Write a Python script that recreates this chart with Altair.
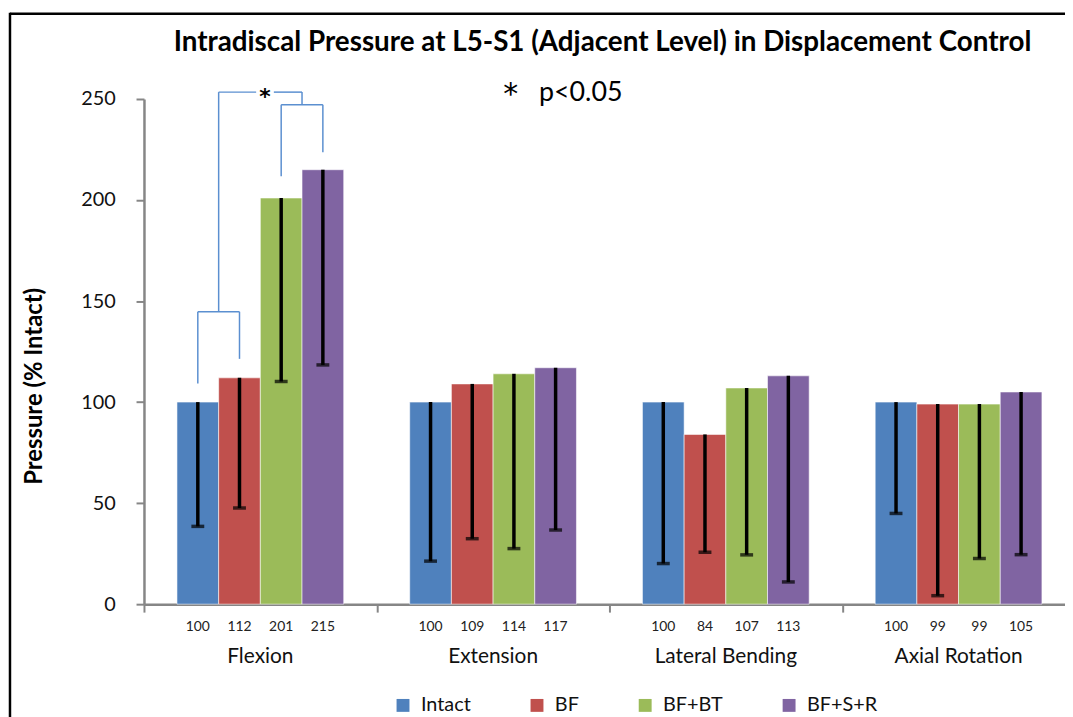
import altair as alt
import pandas as pd

# ---------------- data ----------------
categories = ["Flexion", "Extension", "Lateral Bending", "Axial Rotation"]
series = ["Intact", "BF", "BF+BT", "BF+S+R"]
colors = ["#4F81BD", "#C0504D", "#9BBB59", "#8064A2"]

intact = [100, 100, 100, 100]
bf = [112, 109, 84, 99]
bf_bt = [201, 114, 107, 99]
bf_s_r = [215, 117, 113, 105]

intact_low = [38.5, 21.3, 20.1, 44.9]
bf_low = [47.6, 32.4, 25.7, 4.2]
bf_bt_low = [110.2, 27.5, 24.4, 22.6]
bf_s_r_low = [118.4, 36.7, 11.0, 24.5]

value_labels = [["100", "112", "201", "215"],
                ["100", "109", "114", "117"],
                ["100", "84", "107", "113"],
                ["100", "99", "99", "105"]]

# significance brackets (Flexion): levels in % intact
bracket_a_level = 144.7
bracket_a_left_end = 109.2
bracket_a_right_end = 121.4
bracket_top_level = 253.4
bracket_b_level = 247.2
bracket_b_left_end = 211.8
bracket_b_right_end = 223.7

# ---------------- layout ----------------
BAND_PX = 234.5
PLOT_W = 928
PLOT_H = 509
BW = 42 / BAND_PX          # bar width in band units
FONT = "Lato"

vals = [intact, bf, bf_bt, bf_s_r]
lows = [intact_low, bf_low, bf_bt_low, bf_s_r_low]

rows = []
for ci, cat in enumerate(categories):
    for sj, s in enumerate(series):
        xc = ci + 0.5 + (sj - 1.5) * BW
        rows.append(dict(category=cat, series=s, value=vals[sj][ci], low=lows[sj][ci],
                         xc=xc, x0=xc - BW / 2, x1=xc + BW / 2,
                         label=value_labels[ci][sj], order=sj))
df = pd.DataFrame(rows)

cat_df = pd.DataFrame({"category": categories, "xm": [i + 0.5 for i in range(4)]})

xscale = alt.Scale(domain=[0, PLOT_W / BAND_PX], nice=False, zero=False)
yscale = alt.Scale(domain=[0, 250], nice=False)
color_scale = alt.Scale(domain=series, range=colors)

bars = alt.Chart(df).mark_bar(stroke="white", strokeWidth=0.8, strokeOpacity=0.7).encode(
    x=alt.X("x0:Q", scale=xscale,
            axis=alt.Axis(values=[0, 1, 2, 3], labels=False, title=None, grid=False,
                          tickSize=8, tickColor="#868686", tickWidth=2,
                          domainColor="#868686", domainWidth=2.5)),
    x2="x1:Q",
    y=alt.Y("value:Q", scale=yscale,
            axis=alt.Axis(values=[0, 50, 100, 150, 200, 250], grid=False,
                          title="Pressure (% Intact)", titleFont=FONT, titleFontSize=24,
                          titleFontWeight="bold", titleColor="black",
                          titleX=-110, titleY=289, titleBaseline="middle",
                          labelFont=FONT, labelFontSize=20, labelColor="#111",
                          labelPadding=21, tickSize=8, tickColor="#868686", tickWidth=2,
                          domainColor="#868686", domainWidth=2.5)),
    y2=alt.datum(0),
    color=alt.Color("series:N", scale=color_scale,
                    legend=alt.Legend(title=None, orient="none", legendX=251, legendY=601,
                                      direction="horizontal", symbolType="square",
                                      symbolSize=169, symbolStrokeWidth=0,
                                      labelFont=FONT, labelFontSize=20, labelColor="#111",
                                      labelOffset=8, columnPadding=56)),
    order="order:Q",
)

err = alt.Chart(df).mark_rule(color="black", strokeWidth=3.5).encode(
    x="xc:Q", y="low:Q", y2="value:Q")

caps = alt.Chart(df).mark_tick(color="black", orient="horizontal", size=13, thickness=3.5).encode(
    x="xc:Q", y="low:Q")

bar_text = alt.Chart(df).mark_text(font=FONT, fontSize=14, color="#222", baseline="middle").encode(
    x="xc:Q", y=alt.value(532), text="label:N")

cat_text = alt.Chart(cat_df).mark_text(font=FONT, fontSize=21, color="#111", baseline="middle").encode(
    x="xm:Q", y=alt.value(562), text="category:N")

# bracket segments
c = [0.5 + (j - 1.5) * BW for j in range(4)]
ma = (c[0] + c[1]) / 2
mb = (c[2] + c[3]) / 2
gap0, gap1 = 0.482, 0.558
seg = pd.DataFrame([
    dict(x=c[0], x2=c[0], y=bracket_a_left_end, y2=bracket_a_level),
    dict(x=c[1], x2=c[1], y=bracket_a_right_end, y2=bracket_a_level),
    dict(x=c[0], x2=c[1], y=bracket_a_level, y2=bracket_a_level),
    dict(x=ma, x2=ma, y=bracket_a_level, y2=bracket_top_level),
    dict(x=ma, x2=gap0, y=bracket_top_level, y2=bracket_top_level),
    dict(x=gap1, x2=mb, y=bracket_top_level, y2=bracket_top_level),
    dict(x=mb, x2=mb, y=bracket_b_level, y2=bracket_top_level),
    dict(x=c[2], x2=c[3], y=bracket_b_level, y2=bracket_b_level),
    dict(x=c[2], x2=c[2], y=bracket_b_left_end, y2=bracket_b_level),
    dict(x=c[3], x2=c[3], y=bracket_b_right_end, y2=bracket_b_level),
])
brackets = alt.Chart(seg).mark_rule(color="#5B8FD0", strokeWidth=1.5).encode(
    x="x:Q", x2="x2:Q", y="y:Q", y2="y2:Q")

star_df = pd.DataFrame({"x": [(gap0 + gap1) / 2], "y": [bracket_top_level], "t": ["*"]})
star = alt.Chart(star_df).mark_text(font="DejaVu Sans", fontSize=22, fontWeight="bold", color="black",
                                    baseline="middle", dy=5).encode(
    x="x:Q", y="y:Q", text="t:N")

pnote = alt.Chart(pd.DataFrame({"t": ["*"]})).mark_text(
    font="DejaVu Sans", fontSize=30, color="black", align="left", baseline="alphabetic").encode(
    x=alt.value(362), y=alt.value(5), text="t:N")
pnote2 = alt.Chart(pd.DataFrame({"t": ["p<0.05"]})).mark_text(
    font=FONT, fontSize=27, color="black", align="left", baseline="alphabetic").encode(
    x=alt.value(398), y=alt.value(2), text="t:N")

frame_top = alt.Chart(pd.DataFrame({"a": [0]})).mark_rule(color="black", strokeWidth=2.5).encode(
    x=alt.value(-135), x2=alt.value(940), y=alt.value(-86))
frame_left = alt.Chart(pd.DataFrame({"a": [0]})).mark_rule(color="black", strokeWidth=2.5).encode(
    x=alt.value(-135), y=alt.value(-87), y2=alt.value(700))

chart = alt.layer(
    frame_top, frame_left, bars, err, caps, bar_text, cat_text, brackets, star, pnote, pnote2
).properties(
    width=PLOT_W, height=PLOT_H,
    title=alt.TitleParams("Intradiscal Pressure at L5-S1 (Adjacent Level) in Displacement Control",
                          font=FONT, fontSize=28, fontWeight="bold", color="black",
                          anchor="middle", dx=-2, offset=0, dy=46),
    autosize=alt.AutoSizeParams(type="none"),
    padding={"left": 137, "top": 89, "right": 0, "bottom": 111},
    background="white",
).configure_view(stroke=None)

chart.save("out.html", embed_options={"renderer": "svg", "actions": False})
